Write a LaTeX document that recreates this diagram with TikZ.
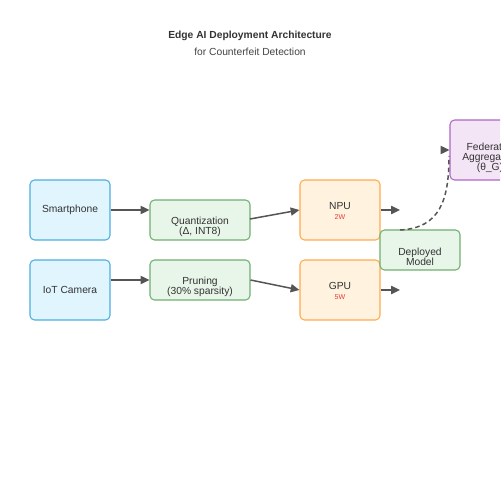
\documentclass[tikz,border=0pt]{standalone}
\usepackage{fontspec}
\setmainfont{Liberation Sans}
\usetikzlibrary{arrows.meta}
\definecolor{txt}{HTML}{333333}
\definecolor{sub}{HTML}{444444}
\definecolor{bluefill}{HTML}{E1F5FE}
\definecolor{bluedraw}{HTML}{4BAEE0}
\definecolor{greenfill}{HTML}{E8F5E9}
\definecolor{greendraw}{HTML}{6FAF6F}
\definecolor{orangefill}{HTML}{FFF3E0}
\definecolor{orangedraw}{HTML}{FFA94D}
\definecolor{purplefill}{HTML}{F3E5F5}
\definecolor{purpledraw}{HTML}{B065C5}
\definecolor{redtxt}{HTML}{E53935}
\definecolor{arrowc}{HTML}{555555}
\tikzset{
  box/.style={draw, rounded corners=0.09cm, line width=0.6pt, inner sep=0pt, align=center,
    text=txt, font=\fontsize{5.85}{5.85}\selectfont},
  devbox/.style={box, fill=bluefill, draw=bluedraw, minimum width=1.6cm, minimum height=1.2cm},
  optbox/.style={box, fill=greenfill, draw=greendraw, minimum width=2cm, minimum height=0.8cm},
  hwbox/.style={box, fill=orangefill, draw=orangedraw, minimum width=1.6cm, minimum height=1.2cm},
  depbox/.style={box, fill=greenfill, draw=greendraw, minimum width=1.6cm, minimum height=0.8cm},
  fedbox/.style={box, fill=purplefill, draw=purpledraw, minimum width=1.6cm, minimum height=1.2cm},
  conn/.style={draw=arrowc, line width=0.85pt, -{Triangle[length=5pt,width=4.6pt]}},
  dconn/.style={draw=arrowc, line width=0.85pt, dash pattern=on 2.6pt off 1.8pt},
  lbl/.style={text=txt, inner sep=0pt, align=center, font=\fontsize{5.85}{5.7}\selectfont},
  watt/.style={text=redtxt, font=\fontsize{4}{4}\selectfont, inner sep=0pt}
}
\begin{document}
\begin{tikzpicture}[x=0.02cm, y=-0.02cm]
\useasboundingbox (0,0) rectangle (500,500);
\clip (0,0) rectangle (500,500);
\fill[white] (0,0) rectangle (500,500);
\node[lbl, font=\fontsize{5.85}{6}\selectfont\bfseries] (title) at (250,36) {Edge AI Deployment Architecture};
\node[lbl, text=sub, font=\fontsize{5.85}{6}\selectfont] (subtitle) at (250,51.5) {for Counterfeit Detection};

\node[devbox] (phone) at (70,210) {Smartphone};
\node[devbox] (iot) at (70,290) {IoT Camera};
\node[optbox] (quant) at (200,220) {};
\node[lbl] (quantl) at (200,227) {Quantization\\(Δ, INT8)};
\node[optbox] (prune) at (200,280) {};
\node[lbl] (prunel) at (200,287) {Pruning\\(30\% sparsity)};
\node[hwbox] (npu) at (340,210) {};
\node[lbl] (npul) at (340,206) {NPU};
\node[watt] (npuw) at (340,217) {2W};
\node[hwbox] (gpu) at (340,290) {};
\node[lbl] (gpul) at (340,286) {GPU};
\node[watt] (gpuw) at (340,297) {5W};
\node[depbox] (dep) at (420,250) {};
\node[lbl] (depl) at (420,257) {Deployed\\Model};
\node[fedbox] (fed) at (490,150) {};
\node[lbl] (fedl) at (490,157.5) {Federated\\Aggregation\\(θ\_G)};

\coordinate (npuout) at (400,210);
\coordinate (gpuout) at (400,290);
\coordinate (depstart) at (400,230);
\coordinate (curvetop) at (449,156);
\coordinate (tipstart) at (445,150);

\draw[conn] (phone.east) -- (quant.west |- phone.east);
\draw[conn] (iot.east |- prune.west) -- (prune.west);
\draw[conn] (250,219) -- (npu.west);
\draw[conn] (prune.east) -- (gpu.west);
\draw[conn] (npu.east) -- (npuout);
\draw[conn] (gpu.east) -- (gpuout);
\draw[dconn] (depstart) .. controls (440,228) and (449,200) .. (curvetop);
\draw[conn] (tipstart) -- (fed.west);
\end{tikzpicture}
\end{document}
